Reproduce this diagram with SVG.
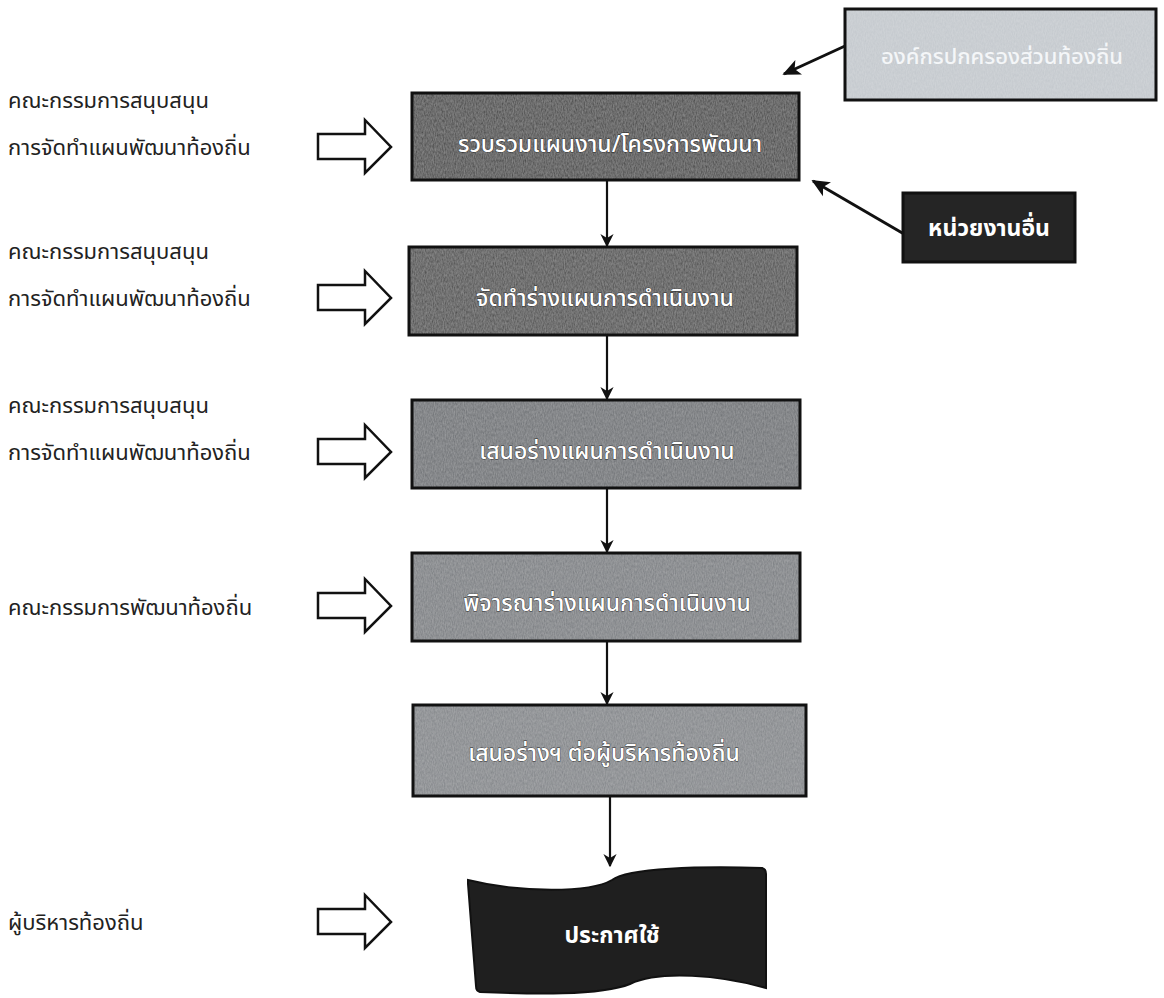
<svg xmlns="http://www.w3.org/2000/svg" width="1164" height="998" viewBox="0 0 1164 998">
<style>
.lbl{font-family:"Noto Sans Thai","Noto Sans","DejaVu Sans",sans-serif;font-size:22px;fill:#222}
.bt{font-family:"Noto Sans Thai","Noto Sans","DejaVu Sans",sans-serif;font-size:23px;font-weight:500;fill:#fff;text-anchor:middle;stroke:#2a2a2a;stroke-width:0.8;paint-order:stroke}
.bb{font-family:"Noto Sans Thai","Noto Sans","DejaVu Sans",sans-serif;font-size:23px;font-weight:bold;fill:#fff;text-anchor:middle}
.hol{fill:#fff;stroke:#111;stroke-width:2.5;stroke-linejoin:miter}
.con{stroke:#111;stroke-width:2.2;fill:none}
.con2{stroke:#111;stroke-width:3;fill:none}
.frame{fill:none;stroke:#111;stroke-width:3}
</style>
<defs>
<marker id="ah" viewBox="0 0 10 10" refX="9" refY="5" markerWidth="6" markerHeight="6" orient="auto" markerUnits="strokeWidth">
<path d="M0,0 L10,5 L0,10 L3,5 Z" fill="#111"/>
</marker>
<marker id="ah2" viewBox="0 0 10 10" refX="9" refY="5" markerWidth="6" markerHeight="6" orient="auto" markerUnits="strokeWidth">
<path d="M0,0.5 L10,5 L0,9.5 L2.5,5 Z" fill="#111"/>
</marker>
<filter id="tex" x="0" y="0" width="100%" height="100%">
<feTurbulence type="fractalNoise" baseFrequency="0.9 0.35" numOctaves="2" seed="3" result="n"/>
<feColorMatrix in="n" type="matrix" values="0 0 0 0 1  0 0 0 0 1  0 0 0 0 1  0 0 0 0.22 0" result="w"/>
<feComposite in="w" in2="SourceGraphic" operator="atop"/>
</filter>
</defs>
<rect width="1164" height="998" fill="#fff"/>

<g id="connectors">
<line class="con" x1="607" y1="180" x2="607" y2="246" marker-end="url(#ah)"/>
<line class="con" x1="607" y1="335" x2="607" y2="399" marker-end="url(#ah)"/>
<line class="con" x1="607" y1="488" x2="607" y2="552" marker-end="url(#ah)"/>
<line class="con" x1="607" y1="641" x2="607" y2="704" marker-end="url(#ah)"/>
<line class="con" x1="610" y1="796" x2="610" y2="866" marker-end="url(#ah)"/>
<line class="con2" x1="845" y1="46" x2="784" y2="74" marker-end="url(#ah2)"/>
<line class="con2" x1="904" y1="234" x2="813" y2="181" marker-end="url(#ah2)"/>
<path class="hol" d="M318,134 H365 V120 L391,147 L365,173 V159 H318 Z"/>
<path class="hol" d="M318,285 H365 V271 L391,298 L365,324 V310 H318 Z"/>
<path class="hol" d="M318,439 H365 V425 L391,452 L365,478 V464 H318 Z"/>
<path class="hol" d="M318,593 H365 V579 L391,606 L365,632 V618 H318 Z"/>
<path class="hol" d="M318,909 H365 V895 L391,922 L365,948 V934 H318 Z"/>
</g>

<g id="label1">
<text class="lbl" x="8" y="108">คณะกรรมการสนุบสนุน</text>
<text class="lbl" x="8" y="155">การจัดทำแผนพัฒนาท้องถิ่น</text>
</g>
<g id="label2">
<text class="lbl" x="8" y="259">คณะกรรมการสนุบสนุน</text>
<text class="lbl" x="8" y="306">การจัดทำแผนพัฒนาท้องถิ่น</text>
</g>
<g id="label3">
<text class="lbl" x="8" y="413">คณะกรรมการสนุบสนุน</text>
<text class="lbl" x="8" y="460">การจัดทำแผนพัฒนาท้องถิ่น</text>
</g>
<g id="label4">
<text class="lbl" x="8" y="615">คณะกรรมการพัฒนาท้องถิ่น</text>
</g>
<g id="label5">
<text class="lbl" x="8" y="930">ผู้บริหารท้องถิ่น</text>
</g>

<g id="org">
<rect x="845" y="9" width="311" height="91" fill="#c2c7cc" filter="url(#tex)"/>
<rect class="frame" x="845" y="9" width="311" height="91"/>
<text class="bt" x="1002" y="64" style="stroke:none;fill:#f4f6f8;font-size:22px">องค์กรปกครองส่วนท้องถิ่น</text>
</g>

<g id="other">
<rect class="frame" x="903" y="193" width="172" height="69" style="fill:#252525"/>
<text class="bb" x="989" y="236">หน่วยงานอื่น</text>
</g>

<g id="step1">
<rect x="412" y="93" width="387" height="87" fill="#404040" filter="url(#tex)"/>
<rect class="frame" x="412" y="93" width="387" height="87"/>
<text class="bt" x="610" y="152">รวบรวมแผนงาน/โครงการพัฒนา</text>
</g>
<g id="step2">
<rect x="409" y="247" width="388" height="88" fill="#484848" filter="url(#tex)"/>
<rect class="frame" x="409" y="247" width="388" height="88"/>
<text class="bt" x="605" y="306">จัดทำร่างแผนการดำเนินงาน</text>
</g>
<g id="step3">
<rect x="412" y="400" width="388" height="88" fill="#6a6d71" filter="url(#tex)"/>
<rect class="frame" x="412" y="400" width="388" height="88"/>
<text class="bt" x="607" y="459">เสนอร่างแผนการดำเนินงาน</text>
</g>
<g id="step4">
<rect x="412" y="553" width="388" height="88" fill="#787b7f" filter="url(#tex)"/>
<rect class="frame" x="412" y="553" width="388" height="88"/>
<text class="bt" x="607" y="611">พิจารณาร่างแผนการดำเนินงาน</text>
</g>
<g id="step5">
<rect x="413" y="705" width="393" height="91" fill="#808387" filter="url(#tex)"/>
<rect class="frame" x="413" y="705" width="393" height="91"/>
<text class="bt" x="604" y="761">เสนอร่างฯ ต่อผู้บริหารท้องถิ่น</text>
</g>

<g id="announce">
<path d="M468,880 C520,893 590,893 612,880 C628,868 700,866 762,868 Q766,869 766,874 L766,988 C720,975 660,970 630,984 C600,996 530,994 480,992 Q476,991 476,986 L468,884 Z" fill="#1f1f1f" stroke="#111" stroke-width="2"/>
<text class="bb" x="612" y="943">ประกาศใช้</text>
</g>
</svg>
